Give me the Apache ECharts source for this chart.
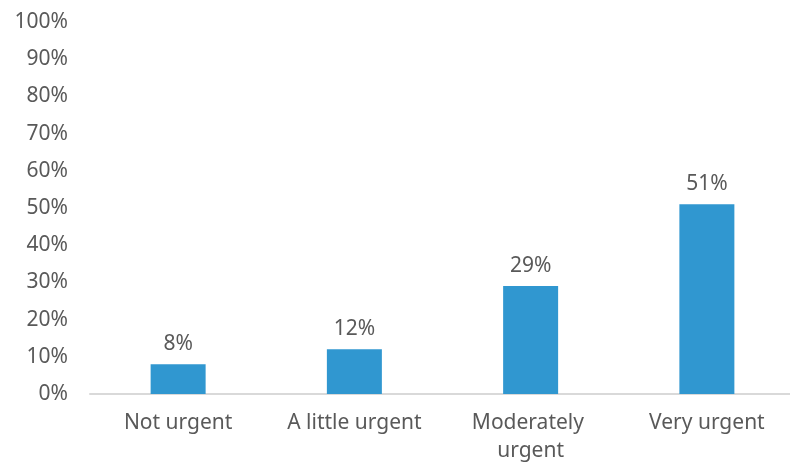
<!DOCTYPE html>
<html>
<head>
<meta charset="utf-8">
<script src="https://cdn.jsdelivr.net/npm/echarts@6/dist/echarts.min.js"></script>
<style>
  html, body { margin: 0; padding: 0; background: #fff; }
  #chart { width: 790px; height: 463px; }
</style>
</head>
<body>
<div id="chart"></div>
<script>
const categories = ["Not urgent", "A little urgent", "Moderately urgent", "Very urgent"];
const values = [8, 12, 29, 51];
const yTicks = [0, 10, 20, 30, 40, 50, 60, 70, 80, 90, 100];

const textColor = "#595959";
const font = "'Noto Sans', sans-serif";

const chart = echarts.init(document.getElementById("chart"));
chart.setOption({
  animation: false,
  grid: {
    left: 90, width: 705, top: 22, bottom: 69,
    containLabel: false,
    outerBoundsMode: "none"
  },
  xAxis: {
    type: "category",
    data: categories,
    axisLine: { lineStyle: { color: "#d9d9d9", width: 2 } },
    axisTick: { show: false },
    axisLabel: {
      color: textColor,
      fontFamily: font,
      fontSize: 21,
      margin: 15,
      width: 170,
      overflow: "break",
      lineHeight: 28,
      interval: 0
    }
  },
  yAxis: {
    type: "value",
    min: yTicks[0],
    max: yTicks[yTicks.length - 1],
    interval: 10,
    splitLine: { show: false },
    axisLine: { show: false },
    axisTick: { show: false },
    axisLabel: {
      color: textColor,
      fontFamily: font,
      fontSize: 21,
      margin: 22,
      formatter: (v) => v + "%"
    }
  },
  series: [
    {
      type: "bar",
      data: values,
      barWidth: 55,
      itemStyle: { color: "#3097D0" },
      label: {
        show: true,
        position: "top",
        distance: 10,
        color: textColor,
        fontFamily: font,
        fontSize: 21,
        formatter: (p) => p.value + "%"
      }
    }
  ]
});
</script>
</body>
</html>
